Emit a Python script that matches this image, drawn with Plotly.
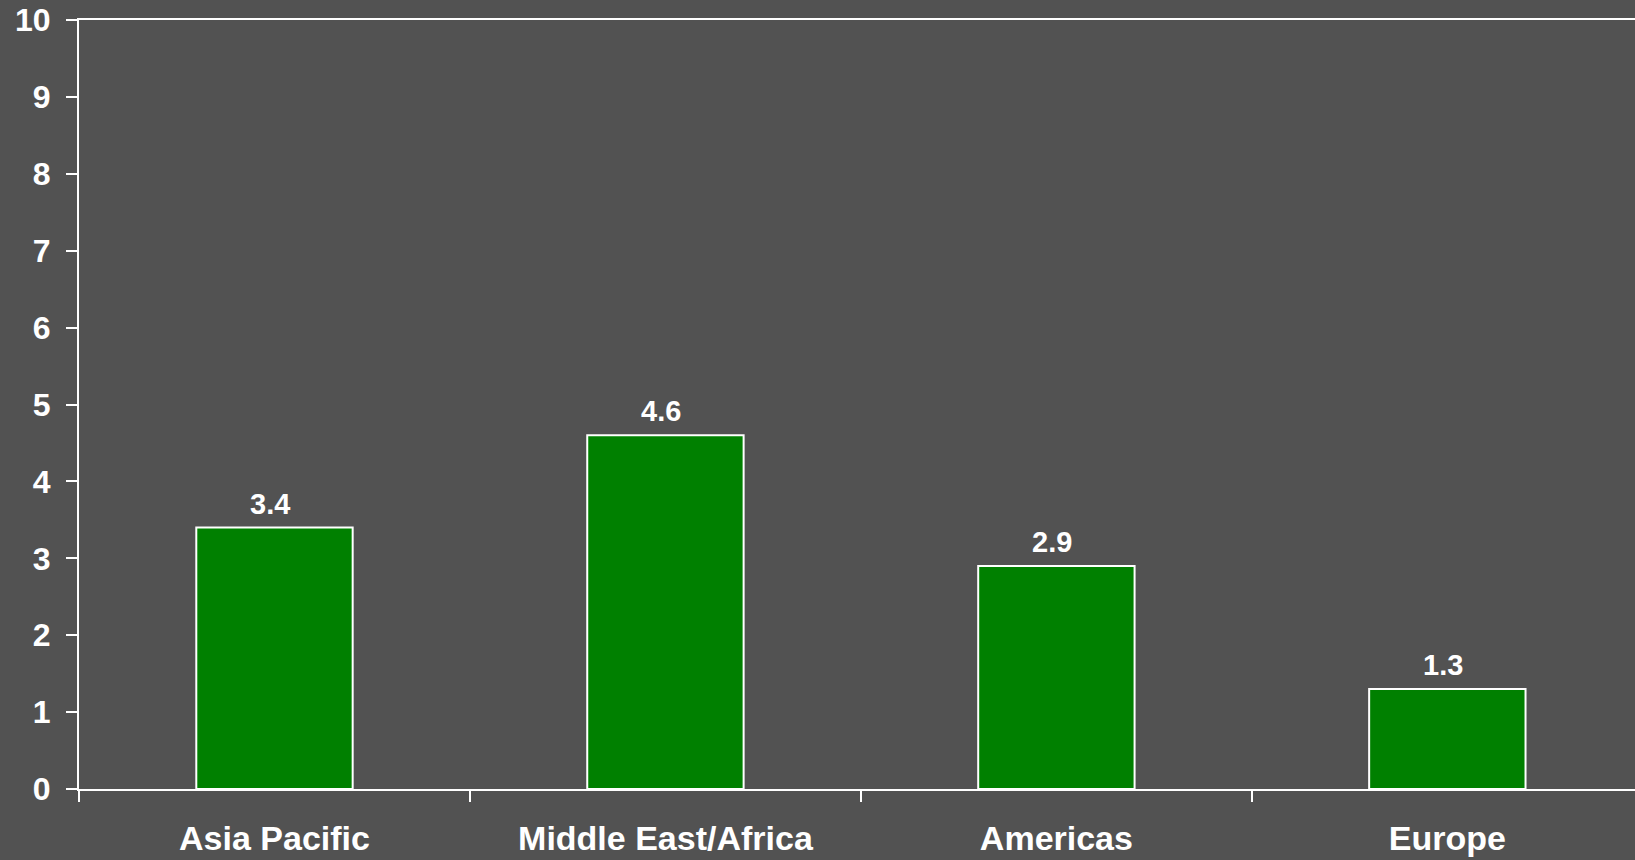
import plotly.graph_objects as go

categories = ["Asia Pacific", "Middle East/Africa", "Americas", "Europe"]
values = [3.4, 4.6, 2.9, 1.3]
value_labels = ["3.4", "4.6", "2.9", "1.3"]
y_ticks = list(range(0, 11))

BG = "#525252"
FONT = "Liberation Sans, Arial, sans-serif"

fig = go.Figure()
fig.add_trace(go.Bar(
    x=categories, y=values, width=0.4,
    marker=dict(color="#008000", line=dict(color="white", width=2)),
    hoverinfo="skip", showlegend=False,
))

for c, v, t in zip(categories, values, value_labels):
    fig.add_annotation(x=c, y=v, text=t, showarrow=False, yanchor="bottom",
                       yshift=6, xshift=-4,
                       font=dict(family=FONT, size=29, color="white", weight="bold"))

fig.update_layout(
    width=1635, height=860,
    margin=dict(l=79, r=0, t=20, b=71),
    paper_bgcolor=BG, plot_bgcolor=BG,
)
fig.update_xaxes(
    type="category", range=[-0.5, 3.48],
    showline=True, linecolor="white", linewidth=2, mirror=True,
    ticks="outside", tickson="boundaries", ticklen=11, tickwidth=2, tickcolor="white",
    showgrid=False, zeroline=False,
    tickfont=dict(family=FONT, size=34, color="white", weight="bold"),
    ticklabelstandoff=18,
)
fig.update_yaxes(
    range=[0, 10], tickvals=y_ticks,
    showline=True, linecolor="white", linewidth=2,
    ticks="outside", ticklen=11, tickwidth=2, tickcolor="white",
    showgrid=False, zeroline=False,
    tickfont=dict(family=FONT, size=32, color="white", weight="bold"),
    ticklabelstandoff=9,
)

fig.write_html(
    "out.html",
    config={"displayModeBar": False},
    post_script="document.body.style.margin='0';document.body.style.background='%s';" % BG,
)
